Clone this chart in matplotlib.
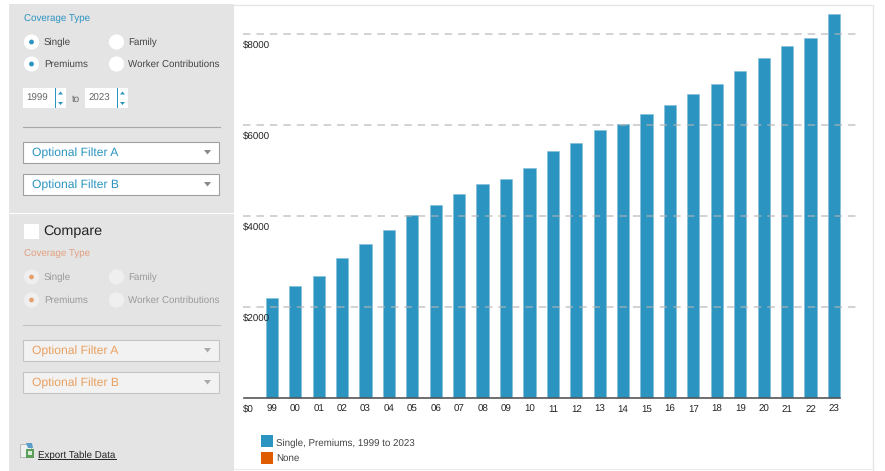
import matplotlib
matplotlib.use("Agg")
import matplotlib.pyplot as plt
from matplotlib.patches import Rectangle, Circle, Polygon
from matplotlib.transforms import ScaledTranslation

plt.rcParams['font.family'] = ['Liberation Sans', 'DejaVu Sans']
plt.rcParams['text.hinting'] = 'no_hinting'
plt.rcParams['text.hinting_factor'] = 8

years = ['99', '00', '01', '02', '03', '04', '05', '06', '07', '08', '09', '10', '11',
         '12', '13', '14', '15', '16', '17', '18', '19', '20', '21', '22', '23']
premiums = [2196, 2471, 2689, 3083, 3383, 3695, 4024, 4242, 4479, 4704, 4824, 5049, 5429,
            5615, 5884, 6025, 6251, 6435, 6690, 6896, 7188, 7470, 7739, 7911, 8435]
y_ticks = [0, 2000, 4000, 6000, 8000]
y_labels = ['$0', '$2000', '$4000', '$6000', '$8000']
series_label = 'Single, Premiums, 1999 to 2023'
none_label = 'None'

W, H = 885, 471
BLUE = '#2b94c0'
ORANGE = '#e05c00'
TXT = 7.0
fig = plt.figure(figsize=(W / 100, H / 100), dpi=100, facecolor='white')

# page layer in pixel coordinates (y down)
ui = fig.add_axes([0, 0, 1, 1], zorder=0)
ui.set_xlim(0, W); ui.set_ylim(H, 0); ui.axis('off')

def rect(x, y, w, h, fc, ec='none', lw=0, **kw):
    ui.add_patch(Rectangle((x, y), w, h, facecolor=fc, edgecolor=ec, linewidth=lw, **kw))

def label(x, y, s, color='#444444', size=TXT, **kw):
    ui.text(x, y, s, color=color, fontsize=size, va='center', ha=kw.pop('ha', 'left'), **kw)

def radio(x, y, on, dot, fc='white'):
    ui.add_patch(Circle((x, y), 7.6, facecolor=fc, edgecolor='none'))
    if on:
        ui.add_patch(Circle((x, y), 2.4, facecolor=dot, edgecolor='none'))

def dropdown(y, s, color, fc, ec, arrow):
    rect(23, y, 196, 21, fc, ec, 0.8)
    label(32, y + 11.5, s, color=color, size=8.7)
    ui.add_patch(Polygon([[204, y + 8.5], [211, y + 8.5], [207.5, y + 13]], facecolor=arrow, edgecolor='none'))

def spinner(x, s):
    rect(x, 88, 43, 20, 'white')
    label(x + 14.5, 98.5, s, color='#666666', size=7.0, ha='center')
    rect(x + 31.7, 88, 0.9, 20, BLUE)
    ui.add_patch(Polygon([[x + 35, 94.5], [x + 40, 94.5], [x + 37.5, 91.5]], facecolor=BLUE))
    ui.add_patch(Polygon([[x + 35, 102], [x + 40, 102], [x + 37.5, 105]], facecolor=BLUE))

# side panel
rect(9, 4, 225, 467, '#e4e4e4')
rect(9, 213, 225, 1.4, 'white')
label(24, 19, 'Coverage Type', color=BLUE)
radio(31.5, 42, True, BLUE); label(44, 42, 'Single')
radio(116.5, 42, False, BLUE); label(128, 42, 'Family')
radio(31.5, 64, True, BLUE); label(44, 64, 'Premiums')
radio(116.5, 64, False, BLUE); label(128, 64, 'Worker Contributions')
spinner(23, '1999')
label(76, 99, 'to', color='#666666', ha='center')
spinner(85, '2023')
ui.plot([23, 220], [126.5, 126.5], color='#a8a8a8', lw=0.8)
dropdown(141.5, 'Optional Filter A', BLUE, 'white', '#a0a0a0', '#888888')
dropdown(173.5, 'Optional Filter B', BLUE, 'white', '#a0a0a0', '#888888')

rect(23.5, 223.5, 15.5, 15.5, 'white')
label(43.5, 231.5, 'Compare', color='#222222', size=10.4)
label(24, 254, 'Coverage Type', color='#e2a080')
radio(31.5, 277, True, '#e8a070', '#efefef'); label(44, 277, 'Single', color='#9a9a9a')
radio(116.5, 277, False, BLUE, '#efefef'); label(128, 277, 'Family', color='#9a9a9a')
radio(31.5, 300, True, '#e8a070', '#efefef'); label(44, 300, 'Premiums', color='#9a9a9a')
radio(116.5, 300, False, BLUE, '#efefef'); label(128, 300, 'Worker Contributions', color='#9a9a9a')
ui.plot([23, 220], [324.5, 324.5], color='#c4c4c4', lw=0.8)
dropdown(339.5, 'Optional Filter A', '#eaa060', '#f2f2f2', '#c4c4c4', '#aaaaaa')
dropdown(371.5, 'Optional Filter B', '#eaa060', '#f2f2f2', '#c4c4c4', '#aaaaaa')

# export link
rect(19.5, 444, 11, 13, '#f0f0f0', '#b0b0b0', 0.6)
ui.add_patch(Polygon([[26, 443], [32, 443], [33, 448], [28, 448]], facecolor='#5b9fc8', edgecolor='none'))
rect(26, 449, 8, 8.5, '#5aa05a')
rect(28, 451, 4, 4, '#d8ecd8')
label(38, 455, 'Export Table Data', color='#222222', size=7.0)
ui.plot([38, 116], [459, 459], color='#222222', lw=0.7)

# chart frame
ui.plot([234, 873, 873], [4.5, 4.5, 471], color='#e4e4e4', lw=0.9)
ui.plot([234, 873], [468.5, 468.5], color='#ececec', lw=0.9)

# chart
PX_PER_UNIT = 91 / 2000
L, R, T, B = 243, 858, 5, 398
ax = fig.add_axes([L / W, 1 - B / H, (R - L) / W, (B - T) / H], zorder=1)
ax.patch.set_alpha(0)
ax.set_ylim(0, (B - T) / PX_PER_UNIT)
x = list(range(len(years)))
SP = 23.42
ax.set_xlim((L - 271.8) / SP, (R - 271.8) / SP)
ax.bar(x, premiums, width=12.2 / SP, color=BLUE, edgecolor='#86bfd9', linewidth=0.45, zorder=3)
ax.grid(False)
for v in y_ticks[1:]:
    ax.axhline(v, color='#b4b4b4', alpha=0.75, lw=1.1, dashes=(4.9, 3.9), zorder=4)
for s in ax.spines.values():
    s.set_visible(False)
ax.plot([-1.2, 24.25], [0, 0], color='#555555', lw=1.2, zorder=5, clip_on=False)
ax.set_xticks(x, years)
ax.tick_params(axis='x', length=0, pad=4.8, labelsize=TXT, labelcolor='#222222')
ax.set_yticks(y_ticks, y_labels)
ax.tick_params(axis='y', length=0, pad=0, labelsize=TXT, labelcolor='#222222')
ax.yaxis.set_zorder(6)
shift = ScaledTranslation(0, -4.8 / 72, fig.dpi_scale_trans)
for t in ax.get_yticklabels():
    t.set_ha('left')
    t.set_va('top')
    t.set_transform(t.get_transform() + shift)

# legend
rect(261, 435, 12, 12, BLUE)
label(276, 443, series_label)
rect(261, 452, 12, 12, ORANGE)
label(276, 458.5, none_label)

fig.savefig('out.png', dpi=100, facecolor='white')
